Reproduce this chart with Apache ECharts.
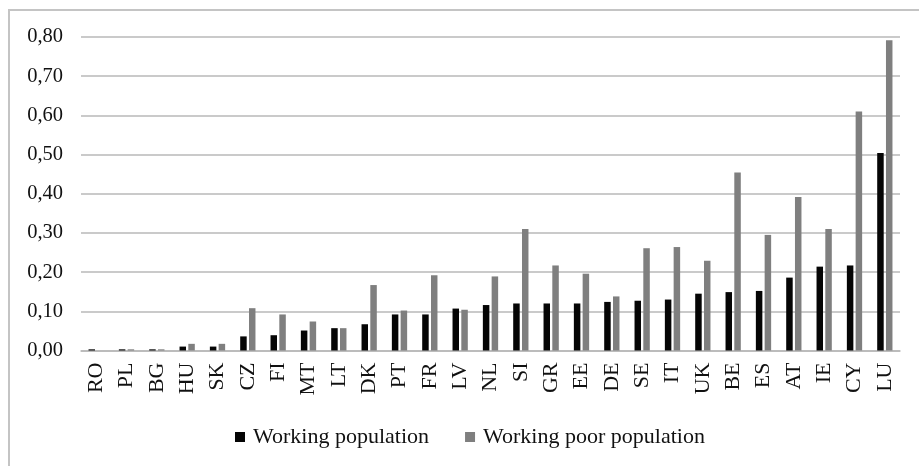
<!DOCTYPE html>
<html>
<head>
<meta charset="utf-8">
<script src="https://cdn.jsdelivr.net/npm/echarts@6/dist/echarts.min.js"></script>
<style>html,body{margin:0;padding:0;background:#fff;}#c{width:919px;height:466px;}</style>
</head>
<body>
<div id="c"></div>
<script>
var categories = ['RO','PL','BG','HU','SK','CZ','FI','MT','LT','DK','PT','FR','LV','NL','SI','GR','EE','DE','SE','IT','UK','BE','ES','AT','IE','CY','LU'];
var workingPopulation = [0.003,0.003,0.003,0.010,0.010,0.036,0.039,0.051,0.057,0.067,0.092,0.092,0.107,0.116,0.120,0.120,0.120,0.124,0.127,0.130,0.145,0.149,0.152,0.186,0.214,0.217,0.504];
var workingPoorPopulation = [0.000,0.003,0.003,0.017,0.017,0.108,0.092,0.074,0.057,0.167,0.102,0.192,0.104,0.189,0.310,0.217,0.196,0.138,0.261,0.264,0.229,0.454,0.295,0.392,0.310,0.610,0.792];
var seriesNames = ['Working population','Working poor population'];

var font = '"Liberation Serif", "DejaVu Serif", serif';
var chart = echarts.init(document.getElementById('c'), null, {renderer:'canvas'});
chart.setOption({
  animation: false,
  backgroundColor: '#fff',
  graphic: [{
    type: 'rect', silent: true,
    shape: {x: 9, y: 10, width: 960, height: 520},
    style: {fill: 'none', stroke: '#c4c4c4', lineWidth: 2}
  }],
  grid: {left: 81, right: 19, top: 37, bottom: 115.5},
  legend: {
    data: seriesNames,
    left: 230, top: 421,
    itemWidth: 10, itemHeight: 10, itemGap: 36,
    icon: 'rect',
    textStyle: {fontFamily: font, fontSize: 22, color: '#111', padding: [0,0,0,3]}
  },
  xAxis: {
    type: 'category',
    data: categories,
    axisLine: {lineStyle: {color: '#b8b8b8', width: 1.5}},
    axisTick: {show: false},
    axisLabel: {rotate: 90, fontFamily: font, fontSize: 22, color: '#111', margin: 12, interval: 0}
  },
  yAxis: {
    type: 'value', min: 0, max: 0.8, interval: 0.1,
    axisLine: {show: false}, axisTick: {show: false},
    splitLine: {lineStyle: {color: '#b8b8b8', width: 1.5}},
    axisLabel: {
      fontFamily: font, fontSize: 20.5, color: '#111', margin: 18,
      formatter: function(v){ return v.toFixed(2).replace('.', ','); }
    }
  },
  series: [
    {name: seriesNames[0], type: 'bar', data: workingPopulation, barWidth: 6.5, barGap: '35%',
     itemStyle: {color: '#050505'}},
    {name: seriesNames[1], type: 'bar', data: workingPoorPopulation, barWidth: 6.5,
     itemStyle: {color: '#7f7f7f'}}
  ]
});
</script>
</body>
</html>
